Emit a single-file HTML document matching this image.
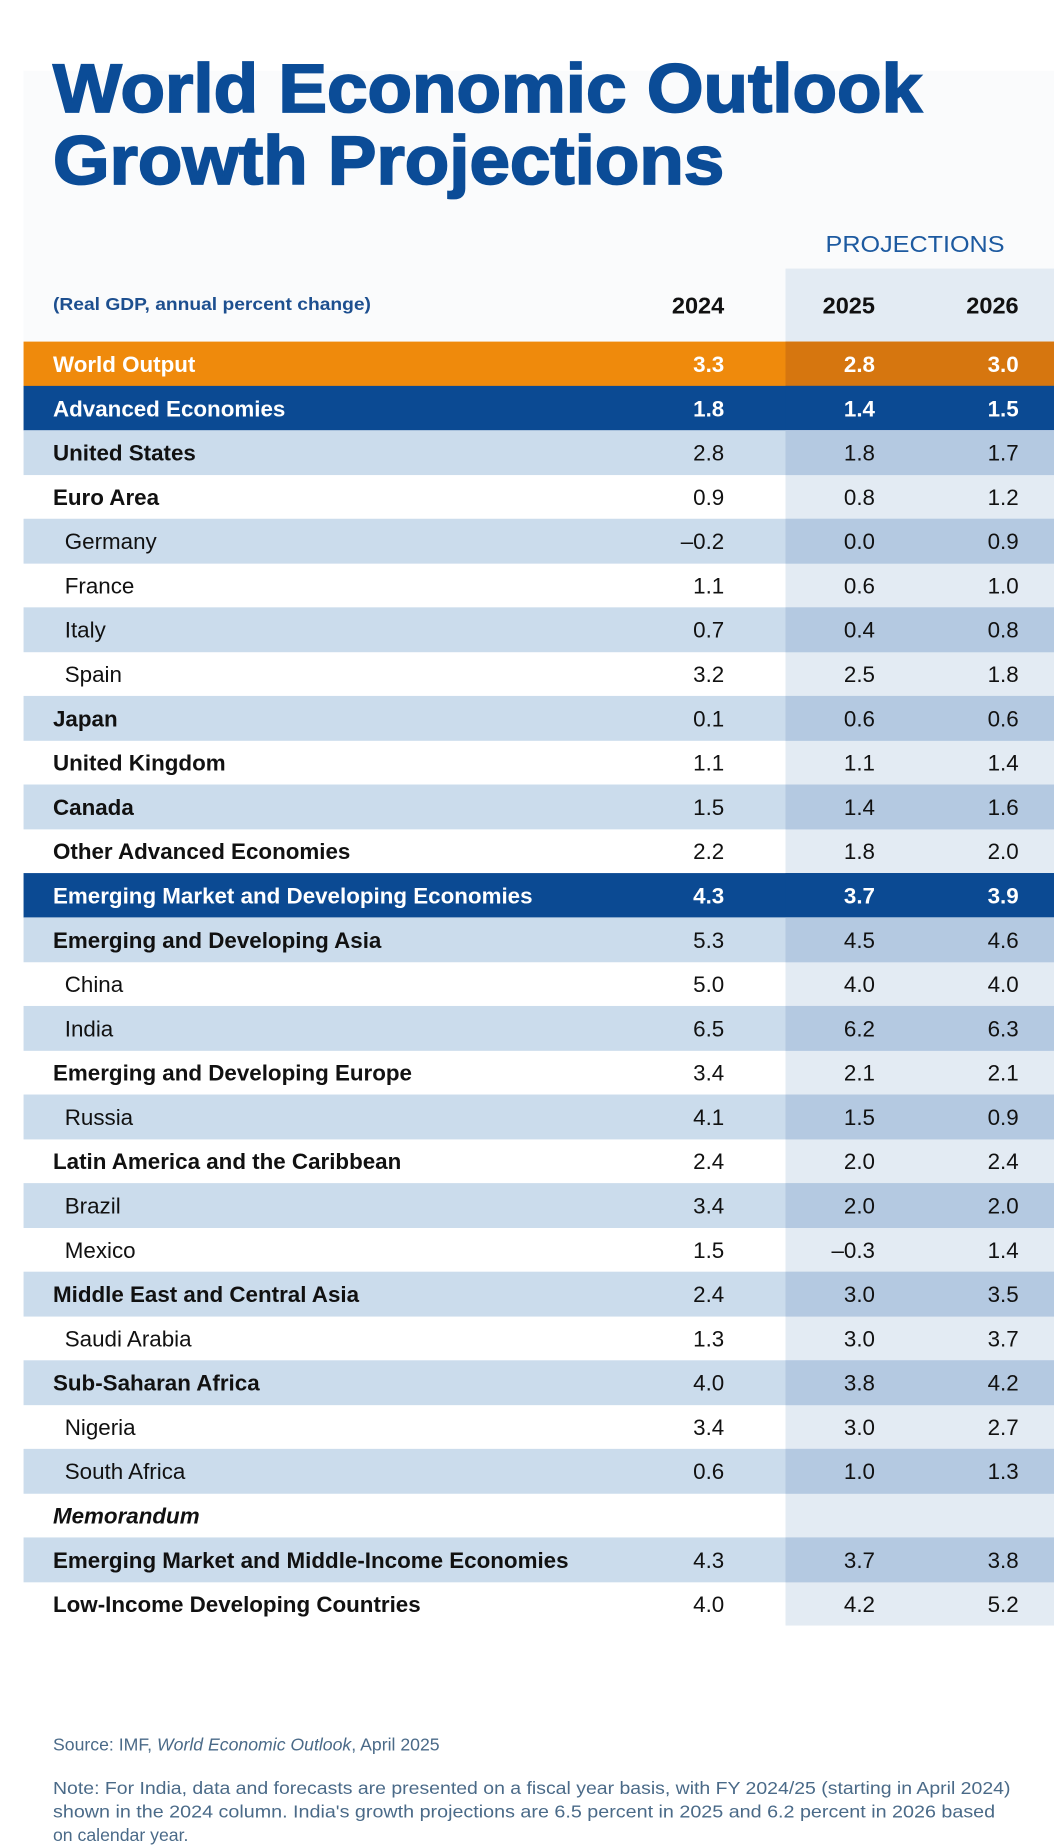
<!DOCTYPE html>
<html><head><meta charset="utf-8"><style>
html,body{margin:0;padding:0;background:#fff;}
svg{display:block;font-family:"Liberation Sans",sans-serif;}
</style></head><body>
<svg id="chart" width="1054" height="1847" viewBox="0 0 895 1568" preserveAspectRatio="none" xmlns="http://www.w3.org/2000/svg">
<rect width="895" height="1568" fill="#ffffff"/>
<rect x="20" y="60" width="875" height="230" fill="#fafbfc"/>
<text x="45" y="95" font-size="58" font-weight="bold" fill="#0b4c97" stroke="#0b4c97" stroke-width="1.5" textLength="738" lengthAdjust="spacingAndGlyphs">World Economic Outlook</text>
<text x="45" y="156" font-size="58" font-weight="bold" fill="#0b4c97" stroke="#0b4c97" stroke-width="1.5" textLength="570" lengthAdjust="spacingAndGlyphs">Growth Projections</text>
<rect x="667" y="228" width="228" height="1152" fill="#e3ebf3"/>
<text x="777" y="214" font-size="20" fill="#1d5aa0" text-anchor="middle" textLength="152" lengthAdjust="spacingAndGlyphs">PROJECTIONS</text>
<text x="45" y="263" font-size="15" font-weight="bold" fill="#1d4f8f" textLength="270" lengthAdjust="spacingAndGlyphs">(Real GDP, annual percent change)</text>
<g id="yearHeaders"></g>
<g id="rows"></g>
<text x="45" y="1486" font-size="15" fill="#4a6a88">Source: IMF, <tspan font-style="italic">World Economic Outlook</tspan>, April 2025</text>
<text x="45" y="1523" font-size="15" fill="#4a6a88" textLength="813" lengthAdjust="spacingAndGlyphs">Note: For India, data and forecasts are presented on a fiscal year basis, with FY 2024/25 (starting in April 2024)</text>
<text x="45" y="1543" font-size="15" fill="#4a6a88" textLength="800" lengthAdjust="spacingAndGlyphs">shown in the 2024 column. India's growth projections are 6.5 percent in 2025 and 6.2 percent in 2026 based</text>
<text x="45" y="1563" font-size="15" fill="#4a6a88">on calendar year.</text>
</svg>
<script>
const years = ["2024","2025","2026"];
const labels = ["World Output","Advanced Economies","United States","Euro Area","Germany","France","Italy","Spain","Japan","United Kingdom","Canada","Other Advanced Economies","Emerging Market and Developing Economies","Emerging and Developing Asia","China","India","Emerging and Developing Europe","Russia","Latin America and the Caribbean","Brazil","Mexico","Middle East and Central Asia","Saudi Arabia","Sub-Saharan Africa","Nigeria","South Africa","Memorandum","Emerging Market and Middle-Income Economies","Low-Income Developing Countries"];
const v2024 = ["3.3","1.8","2.8","0.9","-0.2","1.1","0.7","3.2","0.1","1.1","1.5","2.2","4.3","5.3","5.0","6.5","3.4","4.1","2.4","3.4","1.5","2.4","1.3","4.0","3.4","0.6","","4.3","4.0"];
const v2025 = ["2.8","1.4","1.8","0.8","0.0","0.6","0.4","2.5","0.6","1.1","1.4","1.8","3.7","4.5","4.0","6.2","2.1","1.5","2.0","2.0","-0.3","3.0","3.0","3.8","3.0","1.0","","3.7","4.2"];
const v2026 = ["3.0","1.5","1.7","1.2","0.9","1.0","0.8","1.8","0.6","1.4","1.6","2.0","3.9","4.6","4.0","6.3","2.1","0.9","2.4","2.0","1.4","3.5","3.7","4.2","2.7","1.3","","3.8","5.2"];
const rowStyle = ["orange","blue","s","w","s","w","s","w","s","w","s","w","blue","s","w","s","w","s","w","s","w","s","w","s","w","s","w","s","w"];
const indented = [4,5,6,7,14,15,17,19,20,22,24,25];

const NS="http://www.w3.org/2000/svg";
const top0=290, rowH=37.6, colX=[615,743,865], bandX=667;
function rowY(i){return top0+i*rowH;}
function mk(tag,attrs,parent){const e=document.createElementNS(NS,tag);for(const k in attrs)e.setAttribute(k,attrs[k]);parent.appendChild(e);return e;}

const yh=document.getElementById('yearHeaders');
years.forEach((y,j)=>{
  const t=mk('text',{x:colX[j],y:266,'font-size':20,'font-weight':'bold','text-anchor':'end',fill:'#111'},yh);
  
  
  t.textContent=y;
});

const g=document.getElementById('rows');
const series=[v2024,v2025,v2026];
labels.forEach((lab,i)=>{
  const st=rowStyle[i], y=rowY(i);
  let fill=null,bandFill=null,txt='#111';
  if(st==='orange'){fill='#ef8a0c';bandFill='#d6760f';txt='#fff';}
  else if(st==='blue'){fill='#0b4a93';bandFill='#0b4a93';txt='#fff';}
  else if(st==='s'){fill='#cbdcec';bandFill='#b4c9e1';}
  const rg=mk('g',{},g);
  
  
  if(fill){
    mk('rect',{x:20,y:y,width:875,height:rowH+0.5,fill:fill},rg);
    mk('rect',{x:bandX,y:y,width:895-bandX,height:rowH+0.5,fill:bandFill},rg);
  }
  const ind=indented.includes(i);
  const bold=(!ind)?'bold':'normal';
  const lt=mk('text',{x:ind?55:45,y:y+rowH/2+7,'font-size':19,'font-weight':bold,fill:txt},rg);
  if(i===26)lt.setAttribute('font-style','italic');
  
  
  lt.textContent=lab;
  series.forEach((s,j)=>{
    if(!s[i])return;
    const vt=mk('text',{x:colX[j],y:y+rowH/2+7,'font-size':19,'font-weight':(st==='orange'||st==='blue')?'bold':'normal','text-anchor':'end',fill:txt},rg);
    
    
    vt.textContent=s[i].replace('-','\u2013');
  });
});
</script>
</body></html>
